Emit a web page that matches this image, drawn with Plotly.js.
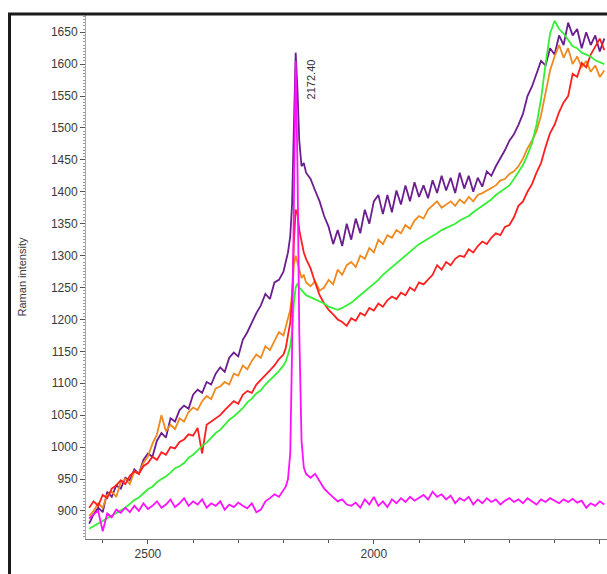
<!DOCTYPE html>
<html>
<head>
<meta charset="utf-8">
<script src="https://cdn.plot.ly/plotly-3.0.1.min.js"></script>
<style>
  html, body { margin: 0; padding: 0; background: #ffffff; }
  #chart { width: 607px; height: 574px; }
</style>
</head>
<body>
<div id="chart"></div>
<script>
// Raman shift (cm-1)
const wavenumber = [
  2630,2620,2610,2600,2590,2580,2570,2560,2550,2540,2530,2520,2510,2500,2490,2480,2470,2460,2450,2440,
  2430,2420,2410,2400,2390,2380,2370,2360,2350,2340,2330,2320,2310,2300,2290,2280,2270,2260,2250,2240,
  2230,2220,2210,2200,
  2195,2190,2185,2181,2177,2173,2169,2165,2160,2155,2150,
  2140,2130,2120,2110,2100,2090,2080,2070,2060,2050,2040,2030,2020,2010,2000,1990,1980,1970,1960,1950,
  1940,1930,1920,1910,1900,1890,1880,1870,1860,1850,1840,1830,1820,1810,1800,1790,1780,1770,1760,1750,
  1740,1730,1720,1710,1700,1690,1680,1670,1660,1650,1640,1630,1620,1610,1600,1590,1580,1570,1560,1550,
  1540,1530,1520,1510,1500,1490
];

const purpleSpectrum = [
  880,895,905,898,930,922,940,935,952,948,965,958,980,990,985,1010,1022,1015,1045,1040,
  1058,1065,1060,1082,1090,1085,1102,1098,1115,1125,1118,1140,1148,1142,1168,1180,1195,1210,1222,1240,
  1232,1258,1262,1275,
  1290,1305,1330,1380,1500,1618,1560,1480,1440,1445,1430,
  1420,1402,1385,1362,1345,1318,1340,1315,1350,1325,1358,1335,1372,1350,1385,1395,1365,1395,1368,1402,
  1380,1410,1385,1415,1392,1410,1390,1418,1398,1425,1402,1422,1398,1430,1405,1425,1400,1422,1408,1432,
  1425,1440,1452,1465,1480,1490,1505,1522,1550,1565,1585,1605,1598,1625,1615,1645,1630,1665,1645,1655,
  1625,1650,1630,1645,1620,1640
];

const orangeSpectrum = [
  892,900,912,905,925,930,922,945,950,942,962,958,975,985,1005,1020,1050,1025,1035,1028,
  1045,1040,1055,1062,1058,1072,1080,1075,1092,1095,1102,1098,1115,1112,1128,1122,1135,1145,1140,1158,
  1152,1165,1180,1175,
  1188,1200,1215,1240,1285,1300,1290,1280,1265,1270,1258,
  1252,1260,1245,1250,1262,1255,1278,1270,1285,1290,1282,1300,1295,1312,1305,1325,1318,1332,1328,1340,
  1335,1348,1342,1355,1362,1358,1372,1378,1385,1375,1380,1385,1378,1388,1382,1392,1385,1395,1398,1402,
  1405,1410,1418,1420,1428,1432,1440,1452,1468,1480,1495,1520,1555,1590,1612,1630,1610,1625,1600,1612,
  1595,1605,1588,1598,1580,1590
];

const redSpectrum = [
  905,915,908,925,920,935,940,948,942,955,962,958,970,975,985,980,992,988,1000,998,
  1008,1012,1020,1018,1030,990,1035,1040,1045,1050,1058,1065,1072,1068,1082,1088,1085,1098,1105,1112,
  1120,1128,1138,1145,
  1155,1175,1195,1230,1320,1372,1365,1340,1320,1305,1295,
  1280,1258,1238,1225,1215,1208,1200,1196,1190,1202,1198,1210,1206,1218,1214,1225,1220,1230,1236,1232,
  1242,1238,1250,1245,1258,1255,1262,1270,1285,1278,1290,1285,1295,1300,1298,1310,1305,1315,1322,1318,
  1328,1335,1332,1345,1348,1360,1378,1385,1400,1412,1430,1445,1470,1492,1505,1525,1540,1550,1585,1580,
  1602,1595,1615,1628,1640,1622
];

const greenSpectrum = [
  872,876,881,884,889,893,897,901,905,911,917,921,928,934,938,945,950,954,960,967,
  970,975,983,988,995,1002,1007,1015,1022,1027,1035,1043,1048,1055,1061,1070,1076,1084,1089,1098,
  1105,1112,1119,1128,
  1134,1145,1158,1180,1225,1250,1256,1250,1245,1242,1238,
  1235,1232,1229,1225,1220,1218,1215,1218,1222,1226,1232,1238,1244,1250,1256,1262,1270,1276,1282,1288,
  1295,1300,1306,1312,1318,1322,1326,1330,1335,1340,1343,1346,1350,1355,1358,1362,1368,1373,1378,1384,
  1388,1395,1400,1405,1410,1420,1430,1442,1458,1476,1505,1545,1600,1648,1668,1655,1648,1638,1628,1625,
  1618,1615,1612,1606,1603,1600
];

const magentaSpectrum = [
  888,895,900,868,896,890,902,897,905,898,908,900,912,903,908,915,905,910,918,906,
  912,920,908,915,910,918,905,912,908,915,902,910,906,913,908,904,912,898,902,915,
  920,926,922,932,
  938,950,990,1150,1420,1605,1440,1180,1010,968,958,
  952,958,946,935,928,922,915,918,910,908,913,905,918,910,922,908,915,906,918,912,
  920,914,922,916,920,925,918,930,922,926,918,924,912,920,916,922,910,918,912,920,
  914,918,910,916,920,914,918,912,920,915,910,918,914,920,916,912,918,914,919,913,
  916,905,912,908,915,910
];

const seriesColors = ['#6c1e8e', '#ef8a1e', '#ff1f1f', '#35ef35', '#ff10ff'];
const seriesData = [purpleSpectrum, orangeSpectrum, redSpectrum, greenSpectrum, magentaSpectrum];

const peakLabel = '2172.40';
const peakPos = [2137, 1576];

const traces = seriesData.map((vals, i) => ({
  x: wavenumber,
  y: vals,
  type: 'scatter',
  mode: 'lines',
  line: { color: seriesColors[i], width: 1.8 },
  hoverinfo: 'skip',
  showlegend: false
}));

const tickFont = { family: 'Liberation Sans, Arial, sans-serif', size: 12, color: '#3a3a3a' };

const layout = {
  width: 607,
  height: 574,
  margin: { l: 86, r: 0, t: 15, b: 35 },
  paper_bgcolor: 'rgba(0,0,0,0)',
  plot_bgcolor: 'rgba(0,0,0,0)',
  showlegend: false,
  xaxis: {
    range: [2637, 1484],
    tick0: 0,
    dtick: 500,
    ticks: 'outside',
    ticklen: 4,
    tickcolor: '#555',
    tickwidth: 1,
    minor: { dtick: 100, ticks: 'outside', ticklen: 3, tickcolor: '#555' },
    showgrid: false,
    zeroline: false,
    showline: true,
    linecolor: '#777',
    linewidth: 1,
    tickfont: tickFont
  },
  yaxis: {
    range: [856, 1677],
    tick0: 0,
    dtick: 50,
    ticks: 'outside',
    ticklen: 5,
    tickcolor: '#555',
    tickwidth: 1,
    minor: { dtick: 5, ticks: 'outside', ticklen: 2, tickcolor: '#999' },
    showgrid: false,
    zeroline: false,
    showline: true,
    linecolor: '#aaa',
    linewidth: 1,
    tickfont: tickFont,
    title: { text: 'Raman intensity', font: { family: 'Liberation Sans, Arial, sans-serif', size: 11, color: '#3a3a3a' }, standoff: 22 }
  },
  annotations: [{
    x: peakPos[0], y: peakPos[1], xref: 'x', yref: 'y',
    text: peakLabel, showarrow: false, textangle: -90,
    font: { family: 'Liberation Sans, Arial, sans-serif', size: 11, color: '#333' }
  }],
  shapes: [
    { type: 'line', xref: 'paper', yref: 'paper', x0: -0.1468, x1: -0.1468, y0: -0.2, y1: 1.002, line: { color: '#1a1a1a', width: 3 } },
    { type: 'line', xref: 'paper', yref: 'paper', x0: -0.1497, x1: 1.05, y0: 1.002, y1: 1.002, line: { color: '#1a1a1a', width: 3 } }
  ]
};

Plotly.newPlot('chart', traces, layout, { staticPlot: true, displayModeBar: false });
</script>
</body>
</html>
